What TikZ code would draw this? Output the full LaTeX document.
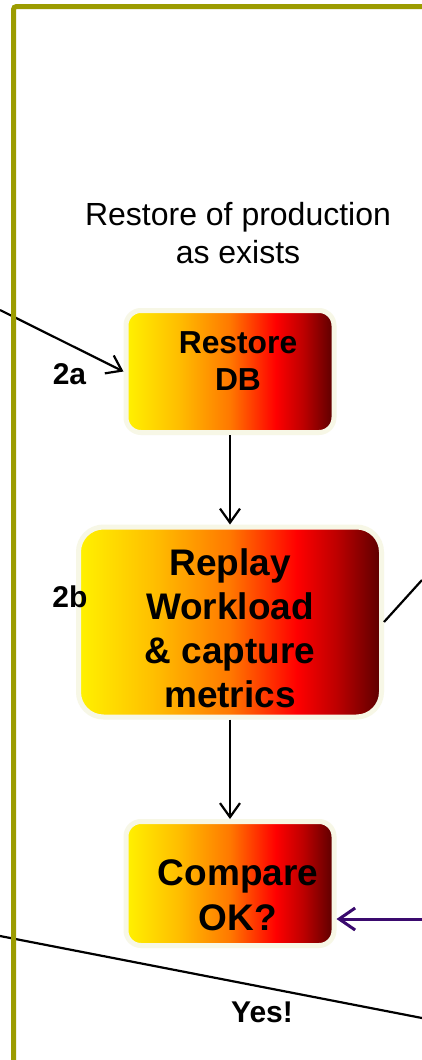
\documentclass[tikz,border=0pt]{standalone}
\usepackage{fontspec}
\setmainfont{Liberation Sans}
\usetikzlibrary{arrows.meta}
\definecolor{olivebd}{RGB}{156,156,0}
\definecolor{glow}{RGB}{247,247,230}
\definecolor{fy}{RGB}{255,242,0}
\definecolor{fyo}{RGB}{255,190,0}
\definecolor{fo}{RGB}{255,120,0}
\definecolor{fr}{RGB}{255,0,0}
\definecolor{fdr}{RGB}{190,0,0}
\definecolor{fk}{RGB}{90,0,0}
\definecolor{purp}{RGB}{58,10,110}
\pgfdeclarehorizontalshading{fire}{100bp}{color(0bp)=(fy); color(25bp)=(fy); color(37.5bp)=(fyo); color(50bp)=(fo); color(61bp)=(fr); color(67.5bp)=(fdr); color(75bp)=(fk); color(100bp)=(fk)}
\begin{document}
\begin{tikzpicture}[x=1pt,y=-1pt,
  firebox/.style={draw=glow, line width=5pt, shading=fire, inner sep=0pt},
  flow/.style={draw=black, line width=2.2pt, -{Straight Barb[length=14pt,width=20pt]}},
  purpflow/.style={draw=purp, line width=3pt, -{Straight Barb[length=16pt,width=22pt]}},
  plain/.style={draw=black, line width=2.2pt},
  lbl/.style={font=\bfseries\fontsize{30}{36}\selectfont, inner sep=0pt},
  note/.style={font=\fontsize{32}{38}\selectfont, align=center, inner sep=0pt}]
\useasboundingbox (0,0) rectangle (422,1060);
\fill[white] (0,0) rectangle (422,1060);

\node[note] (title) at (238,233) {Restore of production\\as exists};

\node[firebox, rounded corners=15pt, minimum width=208pt, minimum height=122pt] (rdb) at (230,371.5) {};
\node[firebox, rounded corners=25pt, minimum width=303pt, minimum height=190pt] (rwl) at (230,622) {};
\node[firebox, rounded corners=15pt, minimum width=208pt, minimum height=124pt] (cmp) at (230,883.5) {};

\node[font=\bfseries\fontsize{31.8}{37}\selectfont, align=center, inner sep=0pt] (rdbt) at (238,361) {Restore\\DB};
\node[font=\bfseries\fontsize{37}{44}\selectfont, align=center, inner sep=0pt] (rwlt) at (230,628) {Replay\\Workload\\\& capture\\metrics};
\node[font=\bfseries\fontsize{37}{45}\selectfont, align=center, inner sep=0pt] (cmpt) at (238,895) {Compare\\OK?};

\node[lbl] (l2a) at (69.5,374) {2a};
\node[lbl] (l2b) at (70,596.5) {2b};
\node[lbl] (yes) at (262,1012.5) {Yes!};

\coordinate (inA) at (0,310);
\coordinate (outB) at (422,580);
\coordinate (inP) at (422,919);
\coordinate (yesL) at (0,936);
\coordinate (yesR) at (422,1018);

\draw[flow] (inA) -- (rdb.west);
\draw[flow] (rdb.south) -- (rwl.north);
\draw[flow] (rwl.south) -- (cmp.north);
\draw[plain] (rwl.east) -- (outB);
\draw[purpflow] (inP) -- (inP -| cmp.east);
\draw[plain] (yesL) -- (yesR);

\draw[olivebd, line width=5pt, rounded corners=3pt] (13.5,1065) -- (13.5,6.5) -- (425,6.5);
\end{tikzpicture}
\end{document}
